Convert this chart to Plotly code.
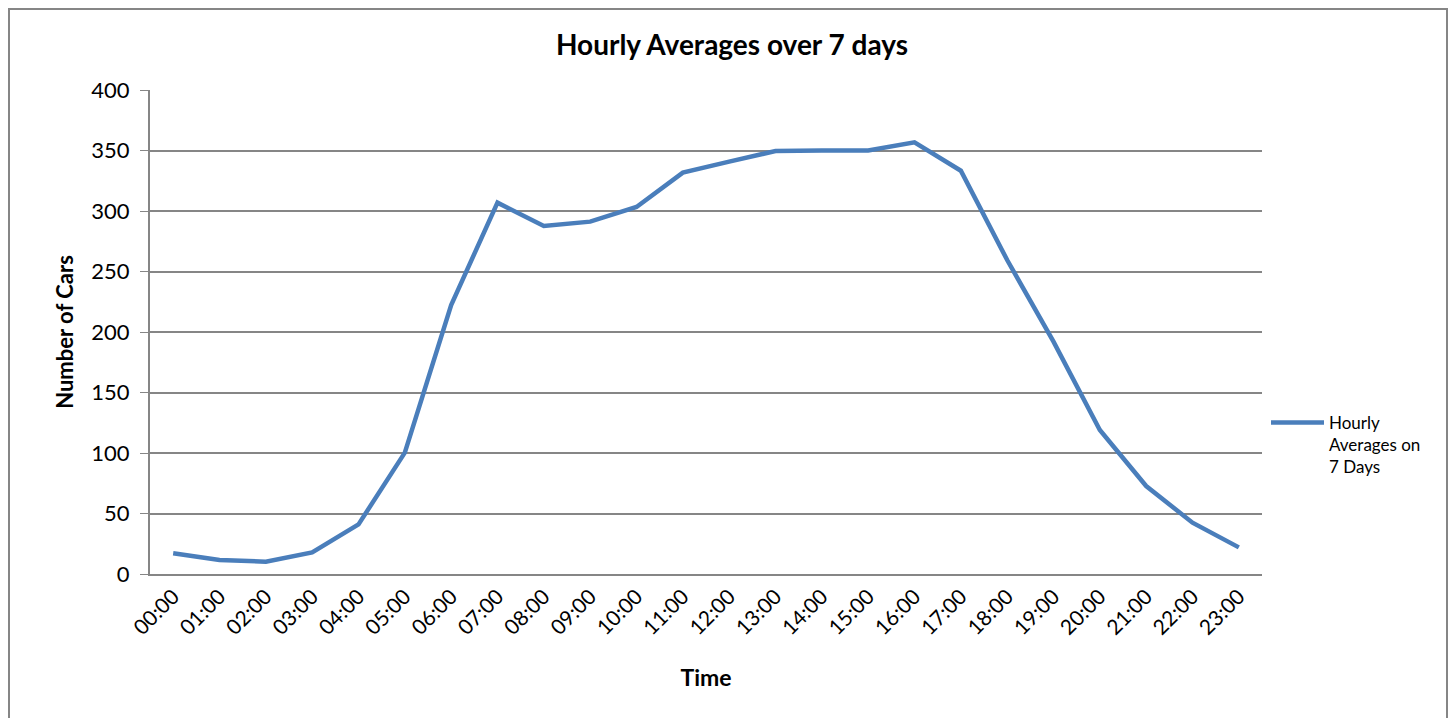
import plotly.graph_objects as go

hours = [f"{h:02d}:00" for h in range(24)]
cars = [17.1, 11.6, 10.2, 17.9, 41.0, 100.3, 222.3, 306.9, 287.6, 291.2, 303.3,
        331.7, 340.8, 349.6, 350.1, 350.0, 356.7, 333.3, 259.5, 192.0, 119.0,
        72.7, 42.4, 22.0]
series_name = "Hourly<br>Averages on<br>7 Days"
title_text = "Hourly Averages over 7 days"
y_ticks = [0, 50, 100, 150, 200, 250, 300, 350, 400]

# page has an 8px body margin; figure coordinates = page - 8
W, H = 1448, 710
L, T = 142, 82
PR, PB = 1254, 566
R, B = W - PR, H - PB
pw = PR - L
ph = PB - T

fig = go.Figure()
fig.add_trace(go.Scatter(
    x=hours, y=cars, mode="lines", name=series_name,
    line=dict(color="#4A7EBB", width=4.5),
))

grid = "#868686"
fig.update_layout(
    width=W, height=H,
    margin=dict(l=L, r=R, t=T, b=B),
    paper_bgcolor="white", plot_bgcolor="white",
    font=dict(family="Lato, Carlito, Calibri, sans-serif", color="black"),
    title=dict(text="<b>" + title_text + "</b>", x=0.5, xanchor="center",
               y=1 - 37 / H, yanchor="middle", font=dict(size=28)),
    showlegend=True,
    legend=dict(x=(1258 - L) / pw, xanchor="left", y=(PB - 437) / ph,
                yanchor="middle", valign="top", font=dict(size=17),
                bgcolor="rgba(0,0,0,0)", itemwidth=53, tracegroupgap=0),
    xaxis=dict(
        type="category", range=[-0.5, 23.5],
        tickangle=-45, tickfont=dict(size=21),
        showline=True, linecolor=grid, linewidth=2,
        ticks="", showgrid=False,
        title=dict(text="<b>Time</b>", font=dict(size=23), standoff=32),
    ),
    yaxis=dict(
        range=[0, 400], tickvals=y_ticks, tickfont=dict(size=22),
        showline=True, linecolor=grid, linewidth=2,
        ticks="outside", ticklen=8, tickcolor=grid, ticklabelstandoff=6,
        showgrid=True, gridcolor=grid, gridwidth=2, zeroline=False,
        title=dict(text="<b>Number of Cars</b>", font=dict(size=22), standoff=12),
    ),
)

fig.add_shape(type="rect", xref="paper", yref="paper",
              x0=(1 - L) / pw, x1=(1439 - L) / pw,
              y0=(PB - 760) / ph, y1=(PB - 1) / ph,
              line=dict(color="#868686", width=2), fillcolor="rgba(0,0,0,0)",
              layer="below")

fig.write_html("out.html")
